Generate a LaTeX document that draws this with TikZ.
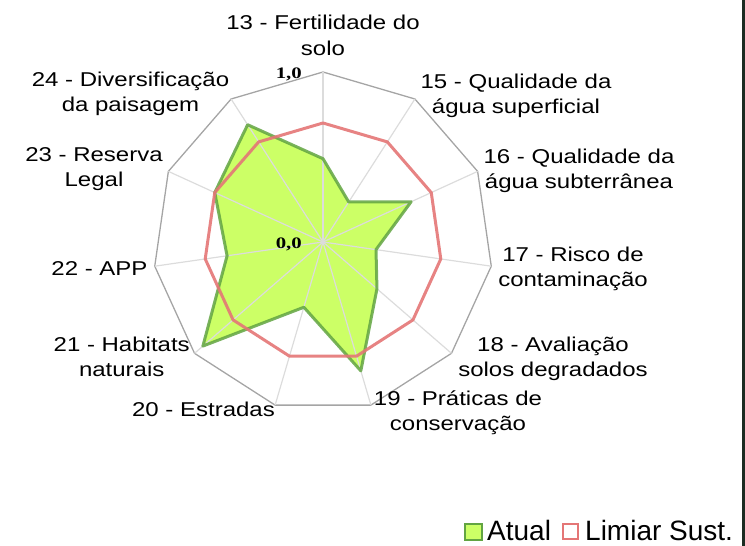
\documentclass[tikz,border=0pt]{standalone}
\usepackage{fontspec}
\setmainfont{Liberation Sans}
\newfontfamily\axisfont[FakeStretch=1.2]{Liberation Sans}
\newfontfamily\tickfont[FakeStretch=1.3]{Liberation Serif}
\usetikzlibrary{calc}

\definecolor{atualfill}{RGB}{204,255,102}
\definecolor{atualline}{RGB}{98,164,66}
\definecolor{limiarline}{RGB}{228,118,118}
\definecolor{outerline}{RGB}{165,165,165}
\definecolor{spokeline}{RGB}{220,220,220}
\definecolor{frameline}{RGB}{28,44,34}

\tikzset{
  outer/.style={draw=outerline, line width=1.3pt, line join=round},
  spoke/.style={draw=spokeline, line width=1.2pt},
  atual/.style={fill=atualfill, draw=atualline, line width=3pt, draw opacity=0.85, line join=round},
  limiar/.style={draw=limiarline, line width=3pt, draw opacity=0.9, line join=round},
  axislabel/.style={anchor=base, inner sep=0pt, align=center, font=\axisfont\fontsize{20}{25}\selectfont},
  ticklabel/.style={anchor=base east, inner sep=0pt, font=\tickfont\bfseries\fontsize{16}{16}\selectfont},
  legendtext/.style={anchor=base west, inner sep=0pt, font=\fontsize{28}{28}\selectfont}
}

\begin{document}
\begin{tikzpicture}[x=1pt,y=1pt,yscale=-1]
\useasboundingbox (0,0) rectangle (745,546);

%Center of the radar
\coordinate (c) at (323,242);

\begin{scope}[shift={(c)}]
% outer ring, threshold ring and current values
\foreach \k in {0,...,10} {
  \coordinate (o\k) at (-90+\k*32.7273:170);
  \coordinate (l\k) at (-90+\k*32.7273:119);
}
\foreach \k/\v in {0/0.49,1/0.28,2/0.57,3/0.315,4/0.42,5/0.79,6/0.40,7/0.935,8/0.57,9/0.70,10/0.82}
  \coordinate (g\k) at (-90+\k*32.7273:\v*170);
\end{scope}

%Shape: outer polygon
\draw[outer] (o0) -- (o1) -- (o2) -- (o3) -- (o4) -- (o5) -- (o6) -- (o7) -- (o8) -- (o9) -- (o10) -- cycle;

%Shape: Atual
\fill[atualfill] (g0) -- (g1) -- (g2) -- (g3) -- (g4) -- (g5) -- (g6) -- (g7) -- (g8) -- (g9) -- (g10) -- cycle;

%Spokes
\foreach \k in {0,...,10}
  \draw[spoke] (c) -- (o\k);

\draw[atual, fill=none] (g0) -- (g1) -- (g2) -- (g3) -- (g4) -- (g5) -- (g6) -- (g7) -- (g8) -- (g9) -- (g10) -- cycle;

%Shape: Limiar Sust.
\draw[limiar] (l0) -- (l1) -- (l2) -- (l3) -- (l4) -- (l5) -- (l6) -- (l7) -- (l8) -- (l9) -- (l10) -- cycle;

% Scale labels
\node[ticklabel] (max) at (302,78) {1,0};
\node[ticklabel] (min) at (302,248) {0,0};

% Text Node (base = last line)
\node[axislabel] (i13) at (323,55) {13 - Fertilidade do\\solo};
\node[axislabel] (i15) at (516,113) {15 - Qualidade da\\água superficial};
\node[axislabel] (i16) at (579,188) {16 - Qualidade da\\água subterrânea};
\node[axislabel] (i17) at (573,286.7) {17 - Risco de\\contaminação};
\node[axislabel] (i18) at (553,376.7) {18 - Avaliação\\solos degradados};
\node[axislabel] (i19) at (458,430) {19 - Práticas de\\conservação};
\node[axislabel] (i20) at (203.5,416.7) {20 - Estradas};
\node[axislabel] (i21) at (121.7,376.7) {21 - Habitats\\naturais};
\node[axislabel] (i22) at (99.5,275) {22 - APP};
\node[axislabel] (i23) at (94,186.7) {23 - Reserva\\Legal};
\node[axislabel] (i24) at (130.5,111.7) {24 - Diversificação\\da paisagem};

% Legend
\draw[fill=atualfill, draw=atualline, line width=2.5pt] (465,524) rectangle (482,540);
\node[legendtext] (atual) at (487,540) {Atual};
\draw[draw=limiarline, line width=2pt] (563,524) rectangle (578,539);
\node[legendtext] (limiar) at (585,540) {Limiar Sust.};

% right frame
\fill[frameline] (742,0) rectangle (745,546);

\end{tikzpicture}
\end{document}
